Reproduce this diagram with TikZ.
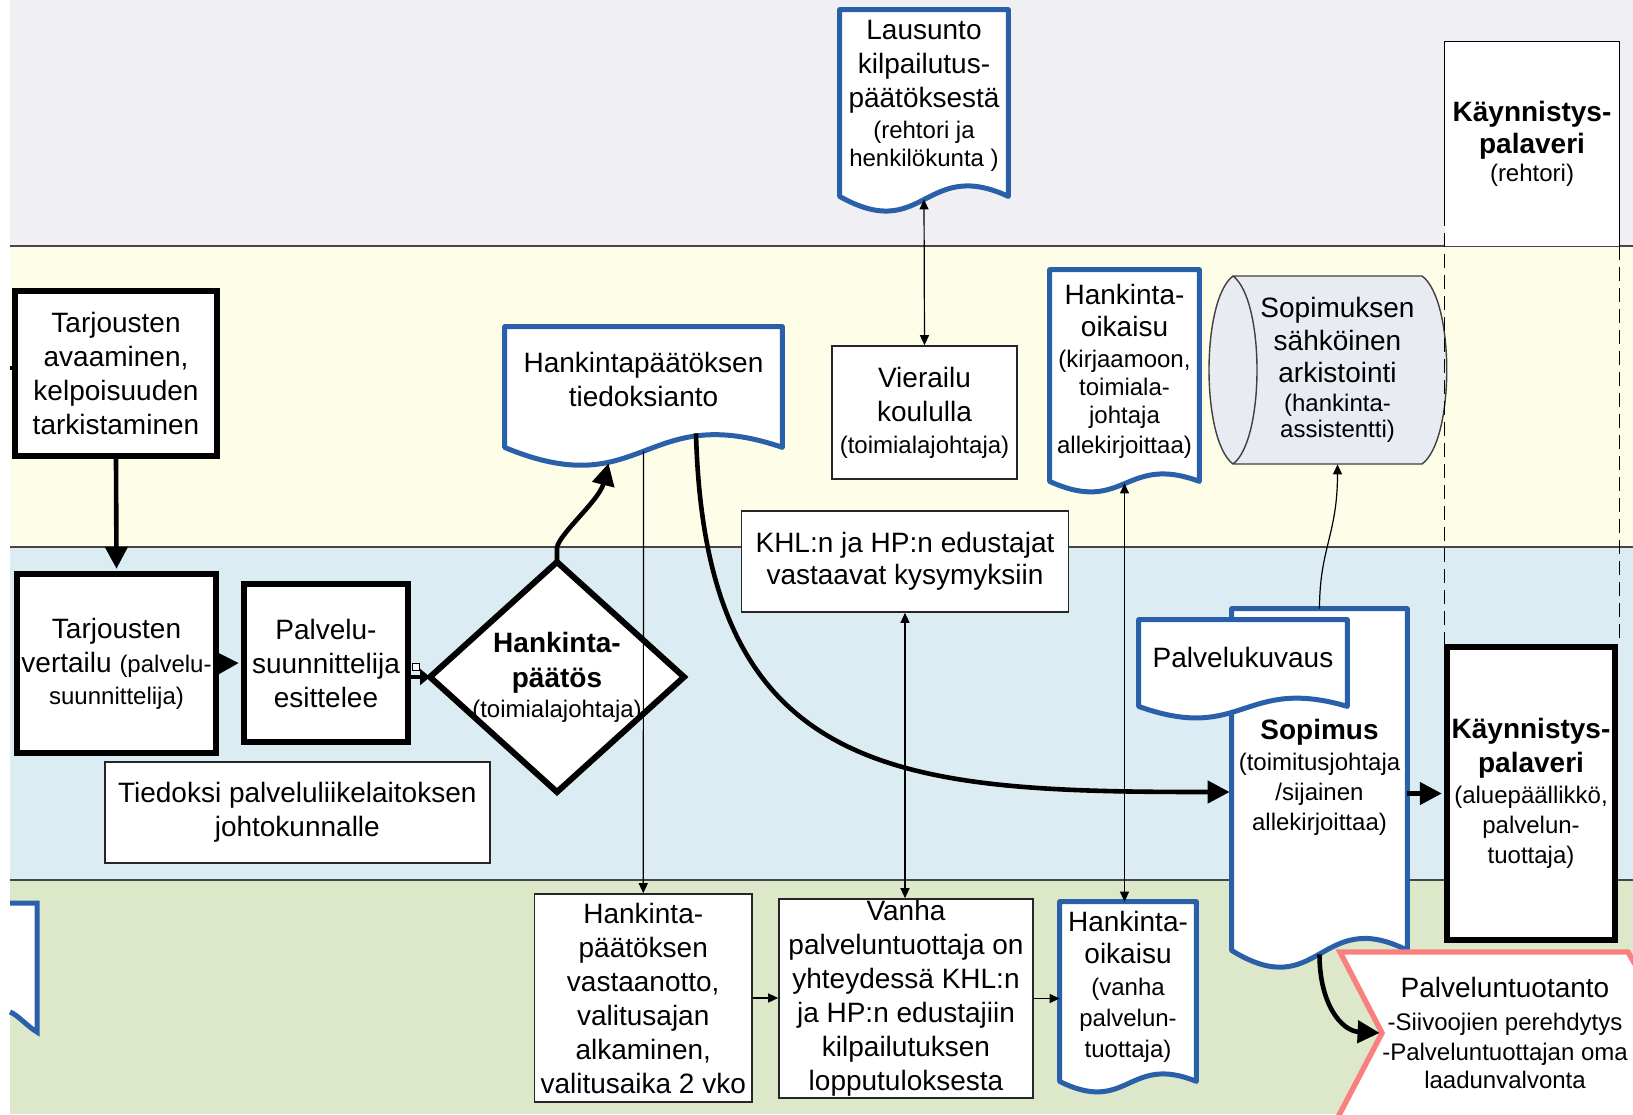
\documentclass[tikz,border=0pt]{standalone}
\usepackage{fontspec}
\setmainfont{Liberation Sans}
\usetikzlibrary{arrows.meta,calc}
\definecolor{laneA}{RGB}{240,239,244}
\definecolor{laneB}{RGB}{254,253,232}
\definecolor{laneC}{RGB}{219,237,243}
\definecolor{laneD}{RGB}{221,231,201}
\definecolor{docblue}{RGB}{42,96,170}
\definecolor{pinkline}{RGB}{250,128,128}
\definecolor{storefill}{RGB}{232,235,242}
\definecolor{lanerule}{RGB}{70,70,70}
\newcommand\fbig{\fontsize{14}{17}\selectfont}
\newcommand\fsm{\fontsize{12}{14}\selectfont}
\pgfdeclarelayer{lanelayer}
\pgfdeclarelayer{shapelayer}
\pgfsetlayers{lanelayer,shapelayer,main}
\newcommand\wavedoc[3]{%
  \begin{pgfonlayer}{shapelayer}
  \path[docline] (#1.north west) -- (#1.north east) -- ($(#1.south east)+(0,#2)$)
    .. controls ($(#1.south)+(0,{#2-2.8*#3})$) and ($(#1.south)+(0,{#2+3.4*#3})$)
    .. ($(#1.south west)+(0,#2)$) -- cycle;
  \end{pgfonlayer}}
\begin{document}
\begin{tikzpicture}[x=0.5pt,y=-0.5pt,
  thickbox/.style={draw=black, line width=3.2pt, fill=white, align=center, font=\fbig, inner sep=0pt},
  thinbox/.style={draw=black!85, line width=0.8pt, fill=white, align=center, font=\fbig, inner sep=0pt},
  txt/.style={align=center, font=\fbig, inner sep=0pt},
  docline/.style={draw=docblue, line width=2.5pt, fill=white, line join=round},
  thickarr/.style={line width=2.3pt, shorten >=1pt, -{Triangle[length=11pt,width=11pt]}},
  thinarr/.style={line width=0.6pt, -{Triangle[length=5pt,width=4.5pt]}},
  thinboth/.style={line width=0.6pt, {Triangle[length=5pt,width=4.5pt]}-{Triangle[length=5pt,width=4.5pt]}},
  dashline/.style={line width=0.6pt, dash pattern=on 7pt off 3.5pt},
]
\useasboundingbox (0,0) rectangle (1633,1114);
\clip (0,0) rectangle (1633,1114);

% swimlanes
\begin{pgfonlayer}{lanelayer}
\fill[white] (0,0) rectangle (1633,1114);
\fill[laneA] (10,0) rectangle (1633,246);
\fill[laneB] (10,246) rectangle (1633,547);
\fill[laneC] (10,547) rectangle (1633,880);
\fill[laneD] (10,880) rectangle (1633,1114);
\draw[lanerule, line width=1.1pt] (10,246) -- (1633,246) (10,547) -- (1633,547) (10,880) -- (1633,880);
\end{pgfonlayer}

% boxes
\node[thickbox, minimum width=101pt, minimum height=82.5pt] (avaus) at (116,373.5)
  {Tarjousten\\avaaminen,\\kelpoisuuden\\tarkistaminen};
\node[thickbox, minimum width=99.5pt, minimum height=89.5pt] (vert) at (116.5,663.5)
  {Tarjousten\\vertailu {\fsm (palvelu-}\\[-1pt]{\fsm suunnittelija)}};
\node[thickbox, minimum width=82pt, minimum height=79pt] (pal) at (326,663)
  {Palvelu-\\suunnittelija\\esittelee};

% decision diamond
\coordinate (hpT) at (557,562);
\coordinate (hpR) at (684,677);
\coordinate (hpB) at (557,792);
\coordinate (hpL) at (430,677);
\filldraw[draw=black, fill=white, line width=3pt] (hpT) -- (hpR) -- (hpB) -- (hpL) -- cycle;
\node[txt] (hp) at (557,677)
  {\textbf{Hankinta-}\\[0.5pt]\textbf{päätös}\\[-2pt]{\fsm (toimialajohtaja)}};

\node[thinbox, minimum width=192.5pt, minimum height=50.5pt] (tied) at (297.3,812.5)
  {Tiedoksi palveluliikelaitoksen\\johtokunnalle};

% documents
\node[txt, minimum width=138.5pt, minimum height=52pt] (htied) at (643.5,379)
  {Hankintapäätöksen\\tiedoksianto};
\wavedoc{htied}{16}{17}

\node[thinbox, minimum width=92.5pt, minimum height=66.5pt] (vier) at (924.5,412.5)
  {Vierailu\\koululla\\[-1pt]{\fsm (toimialajohtaja)}};

\node[txt, minimum width=84pt, minimum height=86pt] (laus) at (924,96)
  {Lausunto\\kilpailutus-\\päätöksestä\\[-1.5pt]{\fsm (rehtori ja}\\[-3pt]{\fsm henkilökunta )}};
\wavedoc{laus}{14}{14}

\node[txt, minimum width=74.5pt, minimum height=101pt] (hoik1) at (1124.5,371)
  {Hankinta-\\[-1pt]oikaisu\\[-1.5pt]{\fsm (kirjaamoon,}\\[-3pt]{\fsm toimiala-}\\[-3pt]{\fsm johtaja}\\[-2pt]{\fsm allekirjoittaa)}};
\wavedoc{hoik1}{9}{10}

% storage
\begin{pgfonlayer}{shapelayer}
\filldraw[draw=black!75, fill=storefill, line width=0.7pt]
  (1233,276) -- (1422,276) .. controls (1455,300) and (1455,440) .. (1422,464)
  -- (1233,464) .. controls (1201,440) and (1201,300) .. (1233,276)
  .. controls (1265,300) and (1265,440) .. (1233,464);
\end{pgfonlayer}
\node[txt, minimum width=84.5pt, minimum height=94pt] (ark) at (1337.5,370)
  {Sopimuksen\\[-0.5pt]sähköinen\\[-1pt]arkistointi\\[-2.5pt]{\fsm (hankinta-}\\[-4pt]{\fsm assistentti)}};

% top Kaynnistys
\node[txt, fill=white, minimum width=87.25pt, minimum height=102pt] (k1) at (1532,144)
  {\textbf{Käynnistys-}\\[-1pt]\textbf{palaveri}\\[-3pt]{\fsm (rehtori)}};
\draw[line width=0.8pt] ($(k1.south west)+(0,-34)$) -- (k1.north west) -- (k1.north east) -- (k1.south east);

\node[thinbox, minimum width=163.5pt, minimum height=50.5pt] (khl) at (905,561.5)
  {KHL:n ja HP:n edustajat\\[-1pt]vastaavat kysymyksiin};

\node[txt, minimum width=87.5pt, minimum height=168pt] (sop) at (1319.5,777)
  {\textbf{Sopimus}\\[-1.5pt]{\fsm (toimitusjohtaja}\\[-2pt]{\fsm /sijainen}\\[-2pt]{\fsm allekirjoittaa)}};
\wavedoc{sop}{5}{16}
\node[txt, minimum width=104pt, minimum height=37pt] (pk) at (1243,657) {Palvelukuvaus};
\wavedoc{pk}{12}{11}

\node[thickbox, minimum width=84pt, minimum height=146.5pt] (k2) at (1531,793.5)
  {\textbf{Käynnistys-}\\\textbf{palaveri}\\[-1.5pt]{\fsm (aluepäällikkö,}\\[-2pt]{\fsm palvelun-}\\[-2pt]{\fsm tuottaja)}};

\node[thinbox, minimum width=108.75pt, minimum height=104pt] (vast) at (643.25,998)
  {Hankinta-\\päätöksen\\vastaanotto,\\valitusajan\\alkaminen,\\valitusaika 2 vko};
\node[thinbox, minimum width=127pt, minimum height=99.5pt] (vanha) at (906,998.5)
  {Vanha\\palveluntuottaja on\\yhteydessä KHL:n\\ja HP:n edustajiin\\kilpailutuksen\\lopputuloksesta};

\node[txt, minimum width=68pt, minimum height=85pt] (hoik2) at (1128,987)
  {Hankinta-\\[-1pt]oikaisu\\[-1pt]{\fsm (vanha}\\[-1.5pt]{\fsm palvelun-}\\[-1.5pt]{\fsm tuottaja)}};
\wavedoc{hoik2}{9}{10}

% service production
\begin{pgfonlayer}{shapelayer}
\filldraw[draw=pinkline, fill=white, line width=2.7pt]
  (1382,1033) -- (1340,952) -- (1628,952) -- (1690,1060) -- (1690,1140) -- (1326,1140) -- cycle;
\end{pgfonlayer}
\node[txt, minimum width=123pt, minimum height=81pt] (ptuot) at (1505,1033)
  {Palveluntuotanto\\[-0.5pt]{\fsm -Siivoojien perehdytys}\\[-2pt]{\fsm -Palveluntuottajan oma}\\[-3pt]{\fsm laadunvalvonta}};

% partial document at left edge
\begin{pgfonlayer}{shapelayer}
\fill[white] (10,903) -- (37,903) -- (37,1032) .. controls (28,1027) and (18,1015) .. (10,1012) -- cycle;
\draw[docblue, line width=2.5pt] (10,903) -- (37,903) -- (37,1032) .. controls (28,1027) and (18,1015) .. (10,1012);
\end{pgfonlayer}

% connectors
\coordinate (inA) at (10,368);
\draw[line width=2pt] (inA) -- (inA -| avaus.west);
\draw[thickarr] (avaus.south) -- (vert.north);
\draw[thickarr] (vert.east) -- (pal.west);
\draw[line width=2.3pt, -{Triangle[length=5pt,width=8pt]}] (pal.east |- hpL) -- (hpL);
\draw[line width=0.5pt, fill=white] (412,663) rectangle (419,670);
\draw[thickarr] (hpT) -- ++(0,-12) .. controls +(-3,-12) and +(-10,40) .. ($(htied.south)+(-34.5,30)$);
\draw[thickarr] ($(htied.south)+(52.5,2)$) .. controls (705,780) and (900,792) .. ($(sop.west)+(0,15)$);
\draw[thinarr] ($(htied.south)+(0,20)$) -- (vast.north);
\draw[thinboth] ($(laus.south)+(0,17)$) -- (vier.north);
\draw[thinboth] (khl.south) -- (khl.south |- vanha.north);
\draw[thinboth] ($(hoik1.south)+(0,11)$) -- (hoik1.south |- hoik2.north);
\draw[thinarr] (sop.north) .. controls +(0,-60) and +(0,70) .. (ark.south);
\draw[thickarr] (sop.east |- k2.west) -- (k2.west);
\draw[thinarr] (vast.east) -- (vast.east -| vanha.west);
\draw[thinarr] (vanha.east) -- (vanha.east -| hoik2.west);
\draw[thickarr] ($(sop.south)+(0,9)$) .. controls +(0,50) and +(-40,-2) .. (ptuot.west);
\draw[dashline] ($(k1.south west)+(0,-34)$) -- (k1.south west |- k2.north);
\draw[dashline] (k1.south east) -- (k1.south east |- k2.north);
\end{tikzpicture}
\end{document}
